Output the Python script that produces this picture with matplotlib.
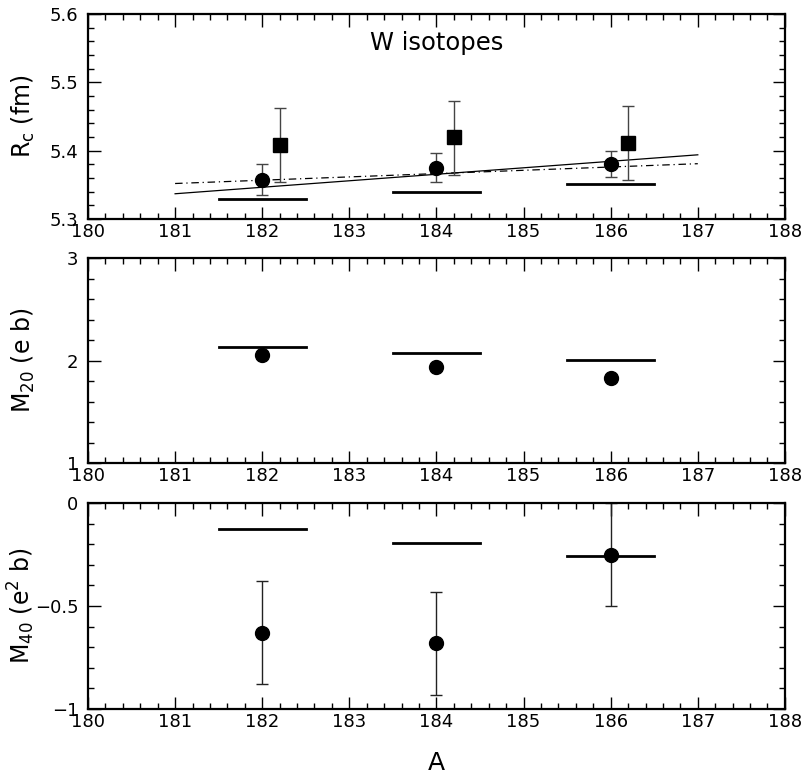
import matplotlib
matplotlib.use("Agg")
import matplotlib.pyplot as plt
from matplotlib.ticker import MultipleLocator

plt.rcParams['font.family'] = ['DejaVu Sans']
plt.rcParams['mathtext.fontset'] = 'dejavusans'
plt.rcParams['mathtext.default'] = 'regular'

# mass numbers
A = [182, 184, 186]
A_sq = [182.2, 184.2, 186.2]

# charge radius panel
rc_circ = [5.357, 5.374, 5.381]
rc_circ_lo = [0.022, 0.020, 0.019]
rc_circ_hi = [0.023, 0.023, 0.019]
rc_sq = [5.409, 5.420, 5.412]
rc_sq_lo = [0.055, 0.055, 0.055]
rc_sq_hi = [0.053, 0.053, 0.053]
rc_bar = [5.329, 5.339, 5.351]
line_x = [181.0, 187.0]
line_solid = [5.337, 5.394]
line_dashdot = [5.352, 5.381]

# quadrupole moment panel
m20 = [2.05, 1.94, 1.83]
m20_bar = [2.13, 2.07, 2.01]

# hexadecapole moment panel
m40 = [-0.63, -0.68, -0.25]
m40_err = [0.25, 0.25, 0.25]
m40_bar = [-0.128, -0.196, -0.257]

bar_half = 0.5

fig = plt.figure(figsize=(8.02, 7.77), dpi=100)
left, width = 0.1097, 0.869
ax1 = fig.add_axes([left, 0.7181, width, 0.2638])
ax2 = fig.add_axes([left, 0.4041, width, 0.2638])
ax3 = fig.add_axes([left, 0.0875, width, 0.2651])

for ax in (ax1, ax2, ax3):
    ax.set_xlim(180, 188)
    ax.set_xticks(range(180, 189))
    ax.xaxis.set_minor_locator(MultipleLocator(0.2))
    ax.tick_params(which='both', direction='in', top=True, right=True,
                   labelsize=13, width=1.0)
    ax.tick_params(axis='x', pad=3)
    ax.tick_params(axis='y', pad=7)
    ax.tick_params(which='major', length=9)
    ax.tick_params(which='minor', length=4.5)
    for s in ax.spines.values():
        s.set_linewidth(1.6)

# top panel
ax1.set_ylim(5.3, 5.6)
ax1.set_yticks([5.3, 5.4, 5.5, 5.6])
ax1.yaxis.set_minor_locator(MultipleLocator(0.02))
ax1.plot(line_x, line_solid, color='black', lw=0.9)
ax1.plot(line_x, line_dashdot, color='black', lw=0.9, linestyle=(0, (6, 3, 1, 3)))
for a, b in zip(A, rc_bar):
    ax1.plot([a - bar_half, a + bar_half], [b, b], color='black', lw=2)
ax1.errorbar(A, rc_circ, yerr=[rc_circ_lo, rc_circ_hi], fmt='o', color='black',
             ms=10, ecolor='#444444', elinewidth=1, capsize=4, capthick=1)
ax1.errorbar(A_sq, rc_sq, yerr=[rc_sq_lo, rc_sq_hi], fmt='s', color='black',
             ms=9.5, ecolor='#444444', elinewidth=1, capsize=4, capthick=1)
ax1.text(184.0, 5.557, 'W isotopes', fontsize=17.5, ha='center', va='center')
ax1.set_ylabel(r'R$_{c}$ (fm)', fontsize=17)

# middle panel
ax2.set_ylim(1, 3)
ax2.set_yticks([1, 2, 3])
ax2.yaxis.set_minor_locator(MultipleLocator(0.2))
for a, b in zip(A, m20_bar):
    ax2.plot([a - bar_half, a + bar_half], [b, b], color='black', lw=2)
ax2.plot(A, m20, 'o', color='black', ms=10)
ax2.set_ylabel(r'M$_{20}$ (e b)', fontsize=17)

# bottom panel
ax3.set_ylim(-1, 0)
ax3.set_yticks([-1, -0.5, 0])
ax3.yaxis.set_minor_locator(MultipleLocator(0.1))
for a, b in zip(A, m40_bar):
    ax3.plot([a - bar_half, a + bar_half], [b, b], color='black', lw=2)
ax3.errorbar(A, m40, yerr=m40_err, fmt='o', color='black', ms=10,
             ecolor='#222222', elinewidth=1, capsize=4, capthick=1)
ax3.set_yticklabels(['\u22121', '\u22120.5', '0'])
ax3.set_ylabel(r'M$_{40}$ (e$^{2}$ b)', fontsize=17)
ax3.set_xlabel('A', fontsize=18, labelpad=14)

for ax in (ax1, ax2, ax3):
    ax.yaxis.set_label_coords(-0.073, 0.5)

fig.savefig('out.png', dpi=100)
